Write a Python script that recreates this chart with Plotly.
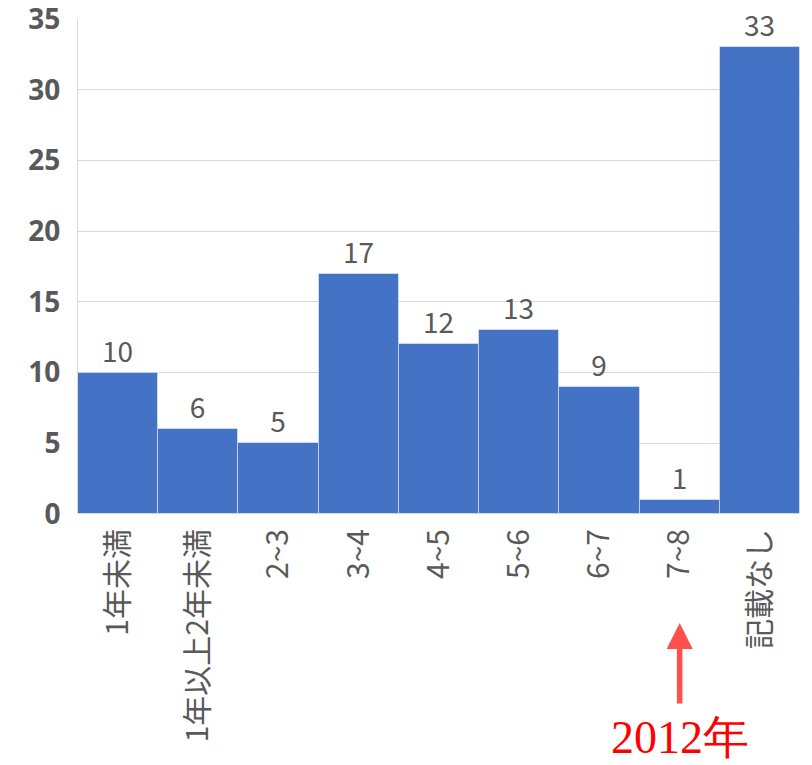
import plotly.graph_objects as go

# Years of service (bins) and number of cases
categories = ["1年未満", "1年以上2年未満", "2~3", "3~4", "4~5", "5~6", "6~7", "7~8", "記載なし"]
counts = [10, 6, 5, 17, 12, 13, 9, 1, 33]
y_ticks = [0, 5, 10, 15, 20, 25, 30, 35]

highlight_category = "7~8"
highlight_label = "2012年"

GRAY = "#595959"
JP_FONT = "Noto Sans CJK JP"

fig = go.Figure(
    go.Bar(
        x=categories,
        y=counts,
        marker=dict(color="#4472C4", line=dict(color="rgba(255,255,255,0.45)", width=1)),
        text=counts,
        textposition="outside",
        textfont=dict(color=GRAY, size=28, family=JP_FONT),
        cliponaxis=False,
    )
)

fig.update_layout(
    width=812,
    height=765,
    margin=dict(l=78, r=12, t=19, b=251),
    plot_bgcolor="white",
    paper_bgcolor="white",
    bargap=0,
    showlegend=False,
    font=dict(family=JP_FONT, color=GRAY),
)

fig.update_xaxes(
    type="category",
    tickangle=-90,
    tickfont=dict(size=30, color=GRAY, family=JP_FONT),
    ticks="",
    ticklabelstandoff=8,
    showgrid=False,
    showline=False,
    automargin=False,
)

fig.update_yaxes(
    range=[0, 35],
    tickvals=y_ticks,
    tickfont=dict(size=28, color=GRAY, family="Open Sans", weight="bold"),
    ticks="",
    ticklabelstandoff=11,
    ticklabeloverflow="allow",
    showgrid=True,
    gridcolor="#d9d9d9",
    gridwidth=1,
    showline=True,
    linecolor="#d9d9d9",
    zeroline=False,
    automargin=False,
)

# Red arrow pointing at the highlighted bin, with its caption underneath
fig.add_annotation(
    x=highlight_category,
    xref="x",
    y=-0.22,
    yref="paper",
    text="",
    showarrow=True,
    ax=0,
    ay=82,
    arrowhead=2,
    arrowsize=0.95,
    arrowwidth=5.5,
    arrowcolor="#FF5050",
)
fig.add_annotation(
    x=highlight_category,
    xref="x",
    y=-0.452,
    yref="paper",
    text=highlight_label,
    showarrow=False,
    yanchor="middle",
    font=dict(family="Liberation Serif", size=46, color="#FF0000"),
)

fig.write_html("out.html")
